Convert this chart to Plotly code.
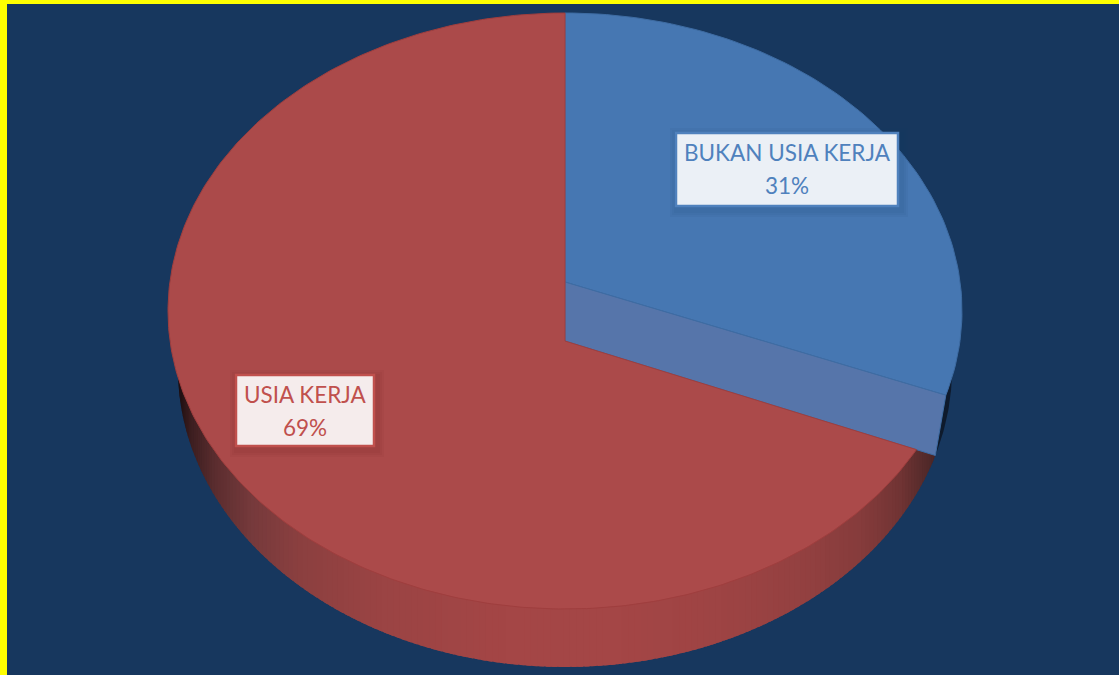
import numpy as np
import plotly.graph_objects as go

categories = ["BUKAN USIA KERJA", "USIA KERJA"]
shares = [31, 69]

W, H = 1119, 675
TOP = dict(cx=565, cy=311, rx=397, ry=298)
LOW = dict(cx=565, cy=369, rx=387, ry=298)
APEX_TOP = (565, 282)
APEX_LOW = (565, 341)
TILT_TOP, TILT_LOW = 1.0, 1.04

BG = "#17375E"
BLUE_TOP, BLUE_CUT, BLUE_EDGE = "#4677B2", "#5675AA", "#3E6CA3"
RED_TOP, RED_EDGE = "#AB4A4A", "#9F3E3E"
RED_TXT, BLUE_TXT = "#C0504D", "#4F81BD"


def arc_x(e, t):
    return e["cx"] + e["rx"] * np.sin(t)


def arc_y(e, t):
    return e["cy"] - e["ry"] * np.cos(t)


def ray_hit(apex, e, t, tilt):
    """Where the slice border at angle t, leaving apex, meets ellipse e."""
    dx, dy = TOP["rx"] * np.sin(t), -TOP["ry"] * np.cos(t) * tilt
    px, py = (apex[0] - e["cx"]) / e["rx"], (apex[1] - e["cy"]) / e["ry"]
    qx, qy = dx / e["rx"], dy / e["ry"]
    a, b, c = qx**2 + qy**2, 2 * (px * qx + py * qy), px**2 + py**2 - 1
    s = (-b + np.sqrt(b**2 - 4 * a * c)) / (2 * a)
    return apex[0] + s * dx, apex[1] + s * dy


def param_of(e, x, y):
    return np.arctan2((x - e["cx"]) / e["rx"], -(y - e["cy"]) / e["ry"]) % (2 * np.pi)


cut = 2 * np.pi * shares[0] / sum(shares)
bx, by = ray_hit(APEX_TOP, TOP, cut, TILT_TOP)   # blue top corner on the rim
rx_, ry_ = ray_hit(APEX_LOW, TOP, cut, TILT_LOW) # red top corner on the rim
wx, wy = ray_hit(APEX_LOW, LOW, cut, TILT_LOW)   # lower corner of the cut face

fig = go.Figure()


def poly(xs, ys, fill, line=None, lw=0):
    fig.add_trace(go.Scatter(
        x=list(xs), y=list(ys), mode="lines", fill="toself", fillcolor=fill,
        line=dict(color=line or fill, width=lw), hoverinfo="skip", showlegend=False))


# Rim wall shading, sampled left to right
STOPS_X = [178, 190, 215, 250, 300, 380, 500, 620, 720, 800, 860, 900, 925, 940]
STOPS_R = [28, 60, 92, 118, 140, 155, 164, 164, 158, 148, 134, 112, 84, 70]
STOPS_G = [14, 30, 46, 58, 64, 68, 70, 70, 68, 65, 60, 52, 42, 36]
STOPS_B = [16, 32, 48, 60, 64, 68, 70, 70, 68, 65, 60, 52, 42, 36]

left_t = 3 * np.pi / 2
end_t = param_of(LOW, wx, wy)
edges = np.linspace(end_t, left_t, 170)
for i in range(len(edges) - 1):
    ts = np.linspace(edges[i], edges[i + 1] + 0.012, 5)
    xs = arc_x(LOW, ts)
    ys = arc_y(LOW, ts)
    xm = xs.mean()
    c = [int(np.interp(xm, STOPS_X, s)) for s in (STOPS_R, STOPS_G, STOPS_B)]
    color = f"rgb({c[0]},{c[1]},{c[2]})"
    poly(list(xs) + [xs[-1], xs[0]], list(ys) + [LOW["cy"], LOW["cy"]], color)

# Dark sliver of the blue outer wall
ts = np.linspace(np.pi / 2, end_t, 30)
poly(list(arc_x(LOW, ts)) + [wx - 30, LOW["cx"] + 300],
     list(arc_y(LOW, ts)) + [wy - 30, LOW["cy"]], "#0E1A2C")

# Blue top face
ts = np.linspace(0, param_of(TOP, bx, by), 90)
poly([APEX_TOP[0]] + list(arc_x(TOP, ts)) + [APEX_TOP[0]],
     [APEX_TOP[1]] + list(arc_y(TOP, ts)) + [APEX_TOP[1]], BLUE_TOP, BLUE_EDGE, 1)

# Cut face of the blue slice
poly([APEX_TOP[0], bx, wx, APEX_LOW[0], APEX_TOP[0]],
     [APEX_TOP[1], by, wy, APEX_LOW[1], APEX_TOP[1]], BLUE_CUT, BLUE_EDGE, 1)

# Red top face
ts = np.linspace(param_of(TOP, rx_, ry_), 2 * np.pi, 300)
poly([APEX_LOW[0]] + list(arc_x(TOP, ts)) + [APEX_LOW[0]],
     [APEX_LOW[1]] + list(arc_y(TOP, ts)) + [APEX_LOW[1]], RED_TOP, RED_EDGE, 1)

# Labels
BOXES = [
    dict(x0=676, x1=898, y0=133, y1=206, fill="#EBF0F6", line=BLUE_TXT, txt=BLUE_TXT,
         shadow="rgba(20,50,90,0.05)"),
    dict(x0=236, x1=374, y0=375, y1=446, fill="#F5ECEC", line=RED_TXT, txt=RED_TXT,
         shadow="rgba(90,20,20,0.05)"),
]
shapes = [
    dict(type="rect", x0=0, x1=W, y0=0, y1=4, fillcolor="#FFFF00", line_width=0, layer="above"),
    dict(type="rect", x0=0, x1=7, y0=0, y1=H, fillcolor="#FFFF00", line_width=0, layer="above"),
]
annotations = []
for box, name, share in zip(BOXES, categories, shares):
    for grow in (8, 6, 4):
        shapes.append(dict(type="rect", x0=box["x0"] - grow + 2, x1=box["x1"] + grow + 2,
                           y0=box["y0"] - grow + 3, y1=box["y1"] + grow + 3,
                           fillcolor=box["shadow"], line_width=0, layer="above"))
    shapes.append(dict(type="rect", x0=box["x0"], x1=box["x1"], y0=box["y0"], y1=box["y1"],
                       fillcolor=box["fill"], line=dict(color=box["line"], width=2.5),
                       layer="above"))
    xc = (box["x0"] + box["x1"]) / 2
    for txt, dy in ((name, 19), (f"{share}%", 52.5)):
        annotations.append(dict(x=xc, y=box["y0"] + dy, text=txt, showarrow=False,
                                xanchor="center", yanchor="middle",
                                font=dict(family="Lato", size=22.5, color=box["txt"])))

fig.update_layout(
    width=W, height=H, margin=dict(l=0, r=0, t=0, b=0),
    paper_bgcolor=BG, plot_bgcolor=BG,
    xaxis=dict(range=[0, W], visible=False, fixedrange=True),
    yaxis=dict(range=[H, 0], visible=False, fixedrange=True),
    shapes=shapes, annotations=annotations, showlegend=False,
)
fig.write_html("out.html", config=dict(displayModeBar=False),
               post_script="document.body.style.margin='0';document.body.style.overflow='hidden';")
